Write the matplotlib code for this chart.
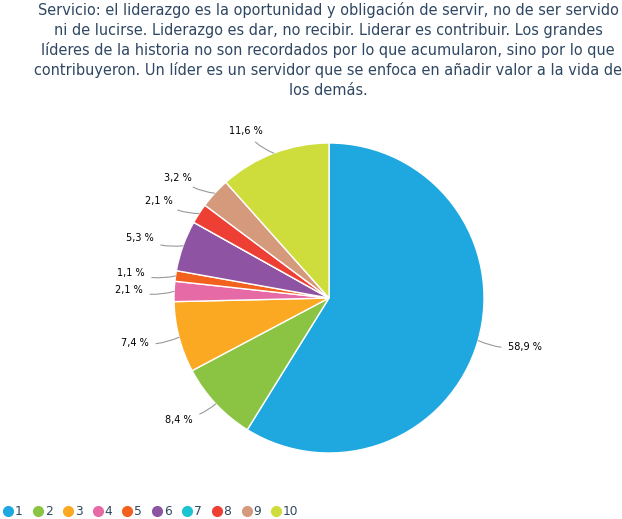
import matplotlib
matplotlib.use("Agg")
import matplotlib.pyplot as plt
from matplotlib.lines import Line2D
import numpy as np

categories = ["1", "2", "3", "4", "5", "6", "7", "8", "9", "10"]
values = [58.9, 8.4, 7.4, 2.1, 1.1, 5.3, 0.0, 2.1, 3.2, 11.6]
colors = ["#1fa8e0", "#8bc443", "#fba823", "#e56aa5", "#f2611d",
          "#8e54a3", "#1cc3d1", "#ee3f35", "#d59a7c", "#cfdd3c"]
title_lines = [
    "Servicio: el liderazgo es la oportunidad y obligación de servir, no de ser servido",
    "ni de lucirse. Liderazgo es dar, no recibir. Liderar es contribuir. Los grandes",
    "líderes de la historia no son recordados por lo que acumularon, sino por lo que",
    "contribuyeron. Un líder es un servidor que se enfoca en añadir valor a la vida de",
    "los demás.",
]

W, H = 622, 519
fig = plt.figure(figsize=(W / 100, H / 100), dpi=100)
txtc = "#2f4762"

for i, line in enumerate(title_lines):
    fig.text(328 / W, 1 - (15 + 20 * i) / H, line, ha="center", va="baseline",
             fontsize=10.45, color=txtc, family="DejaVu Sans")

cx, cy, r = 329, 298, 155
ax = fig.add_axes([(cx - r) / W, 1 - (cy + r) / H, 2 * r / W, 2 * r / H])

wedges, _ = ax.pie(values, colors=colors, startangle=90, counterclock=False,
                   radius=1.0, wedgeprops=dict(edgecolor="white", linewidth=1.0))
ax.set_xlim(-1, 1)
ax.set_ylim(-1, 1)
ax.set_aspect("equal")
ax.axis("off")

for w, v in zip(wedges, values):
    if v <= 0:
        continue
    ang = np.deg2rad((w.theta1 + w.theta2) / 2)
    dx, dy = np.cos(ang), np.sin(ang)
    lab = f"{v:.1f} %".replace(".", ",")
    tx, ty = 1.2 * dx, 1.15 * dy
    ha = "left" if dx > 0 else "right"
    ax.annotate(lab, xy=(1.0 * dx, 1.0 * dy), xytext=(tx, ty), ha=ha, va="center",
                fontsize=7, color="black", annotation_clip=False,
                arrowprops=dict(arrowstyle="-", color="#999999", lw=0.8,
                                shrinkA=3, shrinkB=0,
                                connectionstyle="arc3,rad=0.15" if dx < 0 else "arc3,rad=-0.15"))

handles = [Line2D([], [], marker="o", linestyle="", markersize=7,
                  markerfacecolor=c, markeredgecolor=c) for c in colors]
fig.legend(handles, categories, loc="lower left", bbox_to_anchor=(-0.014, -0.02),
           ncol=10, frameon=False, fontsize=8.8, handletextpad=0.05,
           columnspacing=0.75, handlelength=1.0, labelcolor=txtc)

fig.savefig("out.png", dpi=100)
